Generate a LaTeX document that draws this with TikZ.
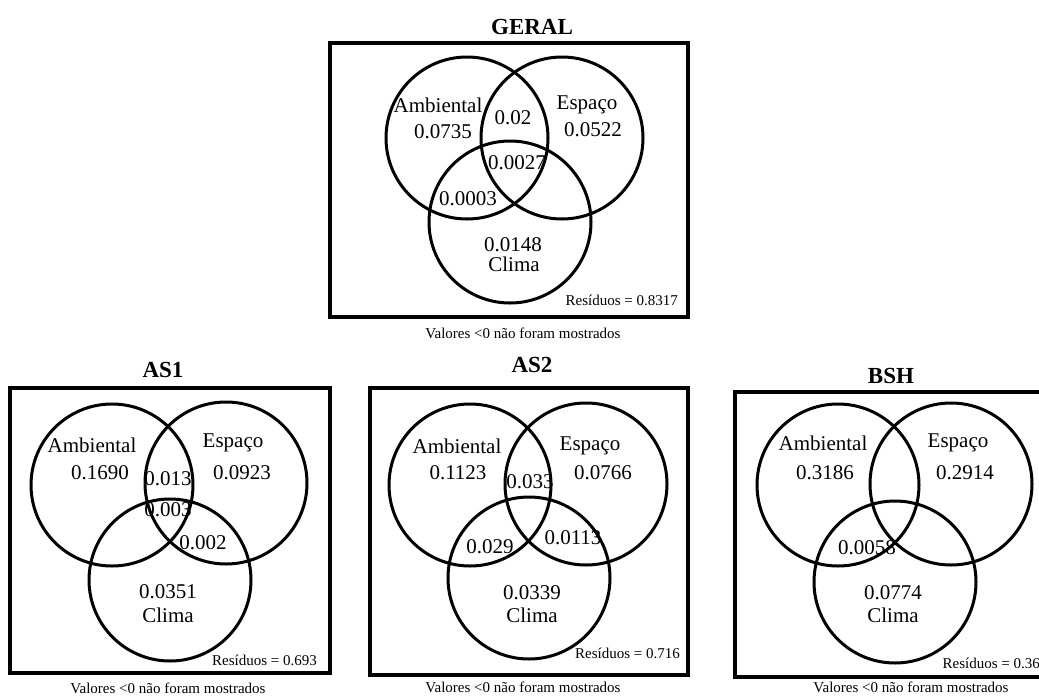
\documentclass[tikz,border=0pt]{standalone}
\usepackage{fontspec}
\setmainfont{Liberation Serif}
\usepackage{tikz}
\tikzset{
  venn/.style={draw, circle, line width=3pt, minimum size=162pt, inner sep=0pt},
  lbl/.style={inner sep=0pt, font=\fontsize{21}{24}\selectfont},
  ttl/.style={inner sep=0pt, font=\fontsize{23}{26}\selectfont\bfseries},
  note/.style={inner sep=0pt, font=\fontsize{15}{17}\selectfont},
  frame/.style={draw, line width=3.5pt}
}

\begin{document}
\begin{tikzpicture}[x=1pt, y=-1pt]
\useasboundingbox (0,0) rectangle (1039,697);
\clip (0,0) rectangle (1039,697);

% GERAL
\node[ttl] (gT) at (532,27) {GERAL};
\draw[frame] (330,43) rectangle (688,317);
\node[lbl] (gAl) at (438,105) {Ambiental};
\node[lbl] (gAv) at (443,132) {0.0735};
\node[lbl] (gEl) at (587,105) {Espaço};
\node[lbl] (gEv) at (593,130) {0.0522};
\node[lbl] (gAE) at (513,118) {0.02};
\node[lbl] (gAEC) at (517,163) {0.0027};
\node[lbl] (gAC) at (468,199) {0.0003};
\node[lbl] (gCv) at (513,245) {0.0148};
\node[lbl] (gCl) at (514,264) {Clima};
\node[venn] (gA) at (467,138) {};
\node[venn] (gE) at (562,138) {};
\node[venn] (gC) at (510,222) {};
\node[note, anchor=east] (gR) at (678,300) {Resíduos = 0.8317};
\node[note] (gN) at (523,333) {Valores <0 não foram mostrados};

% AS1
\node[ttl] (aT) at (163,370) {AS1};
\draw[frame] (10,388) rectangle (330,673);
\node[lbl] (aAl) at (92,445) {Ambiental};
\node[lbl] (aAv) at (100,473) {0.1690};
\node[lbl] (aEl) at (233,443) {Espaço};
\node[lbl] (aEv) at (242,473) {0.0923};
\node[lbl] (aAE) at (168,479) {0.013};
\node[lbl] (aAEC) at (168,510) {0.003};
\node[lbl] (aEC) at (203,543) {0.002};
\node[lbl] (aCv) at (168,592) {0.0351};
\node[lbl] (aCl) at (168,615) {Clima};
\node[venn] (aA) at (112,485) {};
\node[venn] (aE) at (226,483) {};
\node[venn] (aC) at (170,580) {};
\node[note, anchor=east] (aR) at (317,660) {Resíduos = 0.693};
\node[note] (aN) at (168,688) {Valores <0 não foram mostrados};

% AS2
\node[ttl] (bT) at (532,365) {AS2};
\draw[frame] (370,388) rectangle (688,675);
\node[lbl] (bAl) at (457,446) {Ambiental};
\node[lbl] (bAv) at (458,473) {0.1123};
\node[lbl] (bEl) at (590,446) {Espaço};
\node[lbl] (bEv) at (603,473) {0.0766};
\node[lbl] (bAE) at (530,482) {0.033};
\node[lbl] (bAC) at (490,547) {0.029};
\node[lbl] (bEC) at (573,538) {0.0113};
\node[lbl] (bCv) at (532,593) {0.0339};
\node[lbl] (bCl) at (532,615) {Clima};
\node[venn] (bA) at (470,485) {};
\node[venn] (bE) at (586,484) {};
\node[venn] (bC) at (529,578) {};
\node[note, anchor=east] (bR) at (680,653) {Resíduos = 0.716};
\node[note] (bN) at (523,687) {Valores <0 não foram mostrados};

% BSH
\node[ttl] (cT) at (891,376) {BSH};
\draw[frame] (735,392) rectangle (1045,677);
\node[lbl] (cAl) at (823,443) {Ambiental};
\node[lbl] (cAv) at (825,473) {0.3186};
\node[lbl] (cEl) at (958,443) {Espaço};
\node[lbl] (cEv) at (965,473) {0.2914};
\node[lbl] (cAC) at (867,548) {0.0058};
\node[lbl] (cCv) at (893,593) {0.0774};
\node[lbl] (cCl) at (893,615) {Clima};
\node[venn] (cA) at (838,485) {};
\node[venn] (cE) at (951,484) {};
\node[venn] (cC) at (895,582) {};
\node[note, anchor=east] (cR) at (1040,663) {Resíduos = 0.36};
\node[note] (cN) at (911,687) {Valores <0 não foram mostrados};

\end{tikzpicture}
\end{document}
